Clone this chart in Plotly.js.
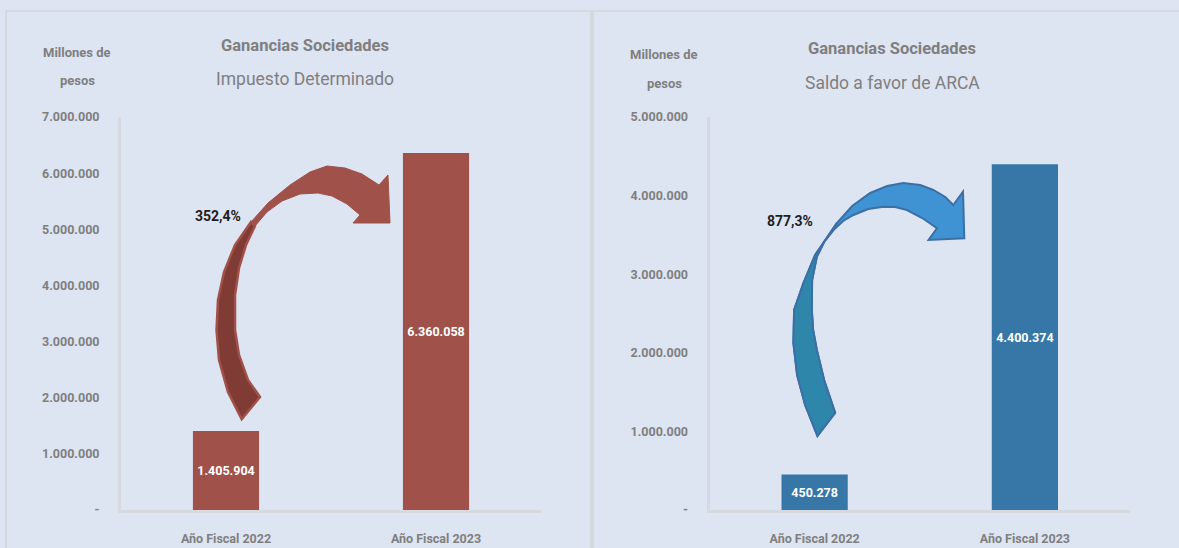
<!DOCTYPE html>
<html>
<head>
<meta charset="utf-8">
<script src="https://cdn.plot.ly/plotly-3.0.1.min.js"></script>
<style>
  html, body { margin: 0; padding: 0; background: #dde4f2; }
  #chart { width: 1179px; height: 548px; }
</style>
</head>
<body>
<div id="chart"></div>
<script>
// datos
var categories = ['Año Fiscal 2022', 'Año Fiscal 2023'];
var impuestoDeterminado = [1405904, 6360058];
var saldoAFavor = [450278, 4400374];
var variaciones = ['352,4%', '877,3%'];

var ticksLeft = [0, 1000000, 2000000, 3000000, 4000000, 5000000, 6000000, 7000000];
var ticksLeftText = ['-', '1.000.000', '2.000.000', '3.000.000', '4.000.000', '5.000.000', '6.000.000', '7.000.000'];
var ticksRight = [0, 1000000, 2000000, 3000000, 4000000, 5000000];
var ticksRightText = ['-', '1.000.000', '2.000.000', '3.000.000', '4.000.000', '5.000.000'];

var FONT = 'Roboto, DejaVu Sans, sans-serif';
var GREY = '#7f7f7f';
var BG = '#dde4f2';

function f(size, color, bold) {
    return { family: FONT, size: size, color: color, weight: bold ? 'bold' : 'normal' };
}

var trace1 = {
    type: 'bar',
    x: [0, 1],
    y: impuestoDeterminado,
    width: 0.315,
    marker: { color: '#a0524a' },
    texttemplate: '%{y:,.0f}',
    textposition: 'inside',
    insidetextanchor: 'middle',
    textangle: 0,
    constraintext: 'none',
    textfont: f(12.5, '#ffffff', true),
    hoverinfo: 'skip',
    xaxis: 'x', yaxis: 'y'
};

var trace2 = {
    type: 'bar',
    x: [0, 1],
    y: saldoAFavor,
    width: 0.315,
    marker: { color: '#3677a8' },
    texttemplate: '%{y:,.0f}',
    textposition: 'inside',
    insidetextanchor: 'middle',
    textangle: 0,
    constraintext: 'none',
    textfont: f(12.5, '#ffffff', true),
    hoverinfo: 'skip',
    xaxis: 'x2', yaxis: 'y2'
};

// flecha curva, puntos en px relativos al area del grafico (origen abajo-izq, 420x393)
function arrowPath(pts, ymax) {
    var s = '';
    pts.forEach(function (p, i) {
        var x = -0.5 + p[0] / 210;
        var y = ymax * p[1] / 393;
        s += (i === 0 ? 'M' : 'L') + x.toFixed(4) + ',' + y.toFixed(0) + ' ';
    });
    return s + 'Z';
}
function rel(pts, x0) {
    return pts.map(function (p) { return [p[0] - x0, 510 - p[1]]; });
}

var leftFull = rel([[241.7,419.3],[228,392],[219,360],[216.5,330],[218,300],[224,272],[235,245],[251,222],[268,203],[290,185],[310,172],[327,166],[345,168],[362,174],[379,185],[388,175],[390,223],[353,223],[360,215],[347,204],[332,196],[318,193],[300,194],[282,201],[267,212],[255,226],[246,245],[239,268],[235,295],[235,330],[239,355],[248,380],[260,397]], 121);
var leftLow = rel([[241.7,419.3],[228,392],[219,360],[216.5,330],[218,300],[224,272],[235,245],[251,222],[255,226],[246,245],[239,268],[235,295],[235,330],[239,355],[248,380],[260,397]], 121);

var rightFull = rel([[817.3,436],[805,405],[797,375],[793.3,343],[794,310],[803.3,283],[815,255],[836.7,223],[852,206],[870,193],[887,186],[903,183],[920,185],[933,190],[945,197],[953,205],[962.7,191.7],[964,238.3],[928.3,240],[936.7,228.3],[922,218],[906.7,210],[895,207],[883.3,206.7],[868,209],[853.3,215],[843,221],[833.3,230],[824,242],[816.7,256.7],[812,280],[811.7,310],[813,330],[816.7,350],[824,380],[835,412.7]], 709.5);
var rightLow = rel([[817.3,436],[805,405],[797,375],[793.3,343],[794,310],[803.3,283],[815,255],[836.7,223],[833.3,230],[824,242],[816.7,256.7],[812,280],[811.7,310],[813,330],[816.7,350],[824,380],[835,412.7]], 709.5);

var shapes = [
    { type: 'rect', xref: 'paper', yref: 'paper', x0: 6/1179, x1: 591/1179, y0: -0.1, y1: 537/548,
      line: { color: '#d4d8df', width: 2 }, fillcolor: 'rgba(0,0,0,0)', layer: 'below' },
    { type: 'rect', xref: 'paper', yref: 'paper', x0: 593/1179, x1: 1.1, y0: -0.1, y1: 537/548,
      line: { color: '#d4d8df', width: 2 }, fillcolor: 'rgba(0,0,0,0)', layer: 'below' },
    { type: 'path', xref: 'x', yref: 'y', path: arrowPath(leftFull, 7000000),
      fillcolor: '#a0524a', line: { color: '#a0524a', width: 1 } },
    { type: 'path', xref: 'x', yref: 'y', path: arrowPath(leftLow, 7000000),
      fillcolor: '#7f3b34', line: { color: '#a0524a', width: 2.5 } },
    { type: 'path', xref: 'x2', yref: 'y2', path: arrowPath(rightFull, 5000000),
      fillcolor: '#3f93d3', line: { color: '#3b6fa6', width: 2 } },
    { type: 'path', xref: 'x2', yref: 'y2', path: arrowPath(rightLow, 5000000),
      fillcolor: '#2e87ab', line: { color: '#3b6fa6', width: 2 } }
];

function txt(text, x, y, size, bold, color) {
    return { xref: 'paper', yref: 'paper', x: x / 1179, y: 1 - y / 548, text: text,
             showarrow: false, xanchor: 'center', yanchor: 'middle',
             font: f(size, color || GREY, bold) };
}

var annotations = [
    txt('Ganancias Sociedades', 305, 46, 16.5, true),
    txt('Impuesto Determinado', 305, 79, 17.5, false),
    txt('Ganancias Sociedades', 892, 49, 16.5, true),
    txt('Saldo a favor de ARCA', 892, 83, 17.5, false),
    txt('Millones de', 77, 53, 13, true),
    txt('pesos', 77, 80, 13, true),
    txt('Millones de', 664, 54, 13, true),
    txt('pesos', 664, 83, 13, true),
    txt(variaciones[0], 218, 216, 14, true, '#1e1e1e'),
    txt(variaciones[1], 790, 221, 14, true, '#1e1e1e')
];

var xbase = {
    type: 'linear', range: [-0.5, 1.5], tickvals: [0, 1], ticktext: categories,
    showline: true, linecolor: '#d6d9df', linewidth: 3, showgrid: false, zeroline: false,
    ticks: '', ticklabelstandoff: 15,
    tickfont: f(12.5, GREY, true), fixedrange: true
};
var ybase = {
    showline: true, linecolor: '#d6d9df', linewidth: 3, showgrid: false, zeroline: false,
    ticks: '', ticklabelstandoff: 16,
    tickfont: f(12.5, GREY, true), fixedrange: true
};

var layout = {
    width: 1179, height: 548,
    margin: { l: 0, r: 0, t: 0, b: 0 },
    paper_bgcolor: BG, plot_bgcolor: BG,
    separators: ',.',
    showlegend: false,
    xaxis: Object.assign({}, xbase, { domain: [121/1179, 541/1179], anchor: 'y' }),
    xaxis2: Object.assign({}, xbase, { domain: [709.5/1179, 1130/1179], anchor: 'y2' }),
    yaxis: Object.assign({}, ybase, { domain: [38/548, 431/548], range: [0, 7000000],
        tickvals: ticksLeft, ticktext: ticksLeftText, anchor: 'x' }),
    yaxis2: Object.assign({}, ybase, { domain: [38/548, 431/548], range: [0, 5000000],
        tickvals: ticksRight, ticktext: ticksRightText, anchor: 'x2' }),
    shapes: shapes,
    annotations: annotations
};

Plotly.newPlot('chart', [trace1, trace2], layout, { displayModeBar: false, staticPlot: true });
</script>
</body>
</html>
